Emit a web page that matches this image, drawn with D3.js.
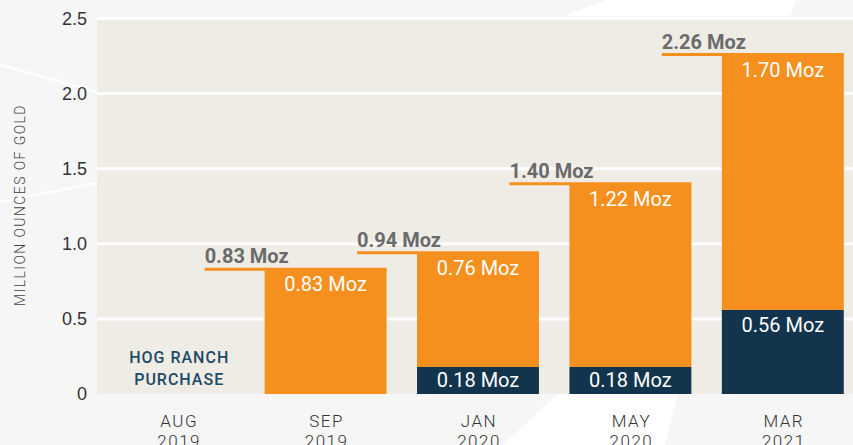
<!DOCTYPE html>
<html>
<head>
<meta charset="utf-8">
<script src="https://cdn.jsdelivr.net/npm/d3@7"></script>
<style>
  html, body { margin: 0; padding: 0; background: #f6f6f6; }
  svg { display: block; font-family: Roboto, "Liberation Sans", sans-serif; }
</style>
</head>
<body>
<div class="canvas"></div>
<script>
// data
const months = ['AUG', 'SEP', 'JAN', 'MAY', 'MAR'];
const years = ['2019', '2019', '2020', '2020', '2021'];
const navyValues = [0, 0, 0.18, 0.18, 0.56];
const orangeValues = [0, 0.83, 0.76, 1.22, 1.70];
const totalValues = [0, 0.83, 0.94, 1.40, 2.26];
const yTicks = [0, 0.5, 1.0, 1.5, 2.0, 2.5];

const width = 853, height = 445;
const margin = {top: 18, right: 0, bottom: 51, left: 97};

const svg = d3.select('.canvas')
  .append('svg')
    .attr('width', width)
    .attr('height', height);

svg.append('rect')
  .attr('width', width).attr('height', height)
  .attr('fill', '#f6f6f6');

// decorative white shapes in the background
const deco = svg.append('g').attr('fill', '#ffffff');
deco.append('polygon').attr('points', '563,16 607,0 797,0 790,16');
deco.append('polygon').attr('points', '558,394 678,394 665,445 503,445');
svg.append('line')
  .attr('x1', 0).attr('y1', 65).attr('x2', 97).attr('y2', 92)
  .attr('stroke', '#fff').attr('stroke-width', 2.5);
svg.append('line')
  .attr('x1', 0).attr('y1', 202).attr('x2', 97).attr('y2', 183)
  .attr('stroke', '#fff').attr('stroke-width', 2.5);

// scales
const x = d3.scaleBand()
  .domain(months.map((m, i) => i))
  .range([97, 859])
  .paddingInner(0.2)
  .paddingOuter(0.1);

const y = d3.scaleLinear()
  .domain([0, 2.5])
  .range([394, 18.5]);

// plot area
svg.append('rect')
  .attr('x', margin.left).attr('y', y(2.5))
  .attr('width', width - margin.left).attr('height', y(0) - y(2.5))
  .attr('fill', '#efebe5');

// gridlines
svg.append('g')
  .selectAll('line')
  .data(yTicks.filter(d => d > 0))
  .join('line')
    .attr('x1', margin.left).attr('x2', width)
    .attr('y1', d => y(d)).attr('y2', d => y(d))
    .attr('stroke', '#fff').attr('stroke-width', 3);

// y axis
const yAxis = d3.axisLeft(y)
  .tickValues(yTicks)
  .tickSize(0)
  .tickPadding(10)
  .tickFormat(d => d === 0 ? '0' : d3.format('.1f')(d));

svg.append('g')
  .attr('transform', `translate(${margin.left}, 0)`)
  .call(yAxis)
  .call(g => g.select('.domain').remove())
  .selectAll('text')
    .attr('font-size', 18)
    .attr('font-weight', 300)
    .attr('fill', '#333');

svg.append('text')
  .attr('transform', 'translate(25, 205) rotate(-90)')
  .attr('text-anchor', 'middle')
  .attr('font-size', 14)
  .attr('font-weight', 300)
  .attr('letter-spacing', 1.4)
  .attr('fill', '#444')
  .text('MILLION OUNCES OF GOLD');

// x labels (first one sits a little right of its slot in the original)
const labelX = i => x(i) + x.bandwidth() / 2 + (i === 0 ? 6 : 1);
const xLabels = svg.append('g')
  .selectAll('text')
  .data(months)
  .join('text')
    .attr('text-anchor', 'middle')
    .attr('font-size', 17)
    .attr('font-weight', 300)
    .attr('letter-spacing', 1.5)
    .attr('fill', '#333');
xLabels.append('tspan')
  .attr('x', (d, i) => labelX(i))
  .attr('y', 427)
  .text(d => d);
xLabels.append('tspan')
  .attr('x', (d, i) => labelX(i))
  .attr('y', 447)
  .text((d, i) => years[i]);

// stacked bars
const idx = d3.range(months.length);

svg.append('g')
  .selectAll('rect')
  .data(idx.filter(i => navyValues[i] > 0))
  .join('rect')
    .attr('x', i => x(i))
    .attr('width', x.bandwidth())
    .attr('y', i => y(navyValues[i]))
    .attr('height', i => y(0) - y(navyValues[i]))
    .attr('fill', '#12344c');

svg.append('g')
  .selectAll('rect')
  .data(idx.filter(i => orangeValues[i] > 0))
  .join('rect')
    .attr('x', i => x(i))
    .attr('width', x.bandwidth())
    .attr('y', i => y(navyValues[i] + orangeValues[i]))
    .attr('height', i => y(navyValues[i]) - y(navyValues[i] + orangeValues[i]))
    .attr('fill', '#f5901f');

const fmt = d => d3.format('.2f')(d) + ' Moz';

// total lines and labels
const totals = svg.append('g')
  .selectAll('g')
  .data(idx.filter(i => totalValues[i] > 0))
  .join('g');

totals.append('line')
  .attr('x1', i => x(i) - 60)
  .attr('x2', i => x(i) + x.bandwidth())
  .attr('y1', i => y(totalValues[i]))
  .attr('y2', i => y(totalValues[i]))
  .attr('stroke', '#f5901f')
  .attr('stroke-width', 3);

totals.append('text')
  .attr('x', i => x(i) - 60)
  .attr('y', i => y(totalValues[i]) - 6)
  .attr('font-size', 20)
  .attr('font-weight', 700)
  .attr('fill', '#6b6b6b')
  .text(i => fmt(totalValues[i]));

// inner labels
svg.append('g')
  .selectAll('text')
  .data(idx.filter(i => orangeValues[i] > 0))
  .join('text')
    .attr('x', i => x(i) + x.bandwidth() / 2)
    .attr('y', i => y(navyValues[i] + orangeValues[i]) + 22)
    .attr('text-anchor', 'middle')
    .attr('font-size', 20)
    .attr('fill', '#fff')
    .text(i => fmt(orangeValues[i]));

svg.append('g')
  .selectAll('text')
  .data(idx.filter(i => navyValues[i] > 0))
  .join('text')
    .attr('x', i => x(i) + x.bandwidth() / 2)
    .attr('y', i => y(navyValues[i]) + Math.min(22, (y(0) - y(navyValues[i])) / 2 + 7))
    .attr('text-anchor', 'middle')
    .attr('font-size', 20)
    .attr('fill', '#fff')
    .text(i => fmt(navyValues[i]));

// annotation in the empty AUG slot
const hog = svg.append('text')
  .attr('text-anchor', 'middle')
  .attr('font-size', 16)
  .attr('font-weight', 500)
  .attr('letter-spacing', 1)
  .attr('fill', '#1d4a66');
hog.append('tspan').attr('x', labelX(0)).attr('y', 363).text('HOG RANCH');
hog.append('tspan').attr('x', labelX(0)).attr('y', 385).text('PURCHASE');
</script>
</body>
</html>
